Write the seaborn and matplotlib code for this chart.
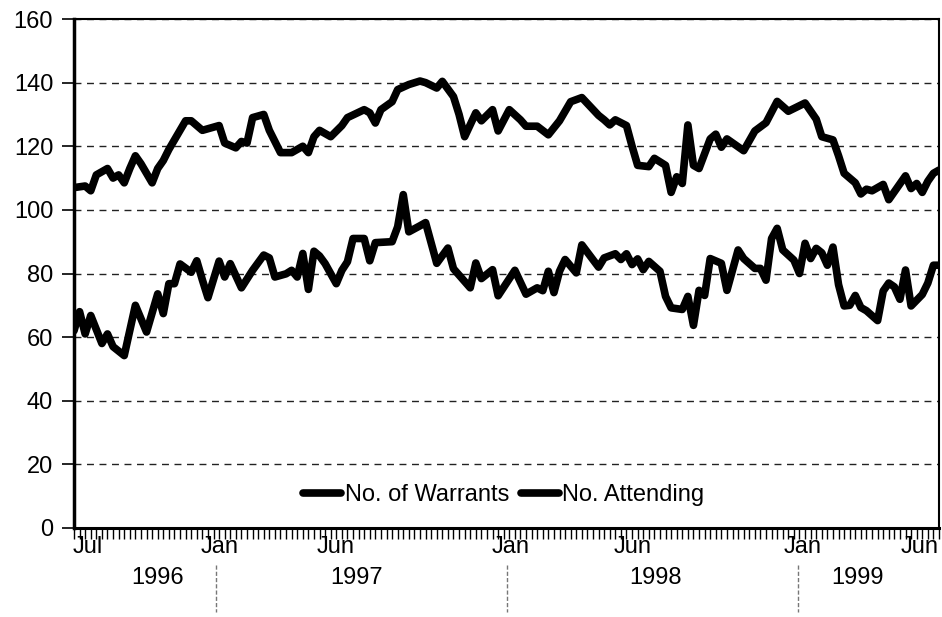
import matplotlib
matplotlib.use("Agg")
import matplotlib.pyplot as plt
import matplotlib.dates as mdates
from matplotlib.lines import Line2D
from matplotlib.transforms import blended_transform_factory
import numpy as np
import pandas as pd
import seaborn as sns

# ---------------- data ----------------
start_date = "1996-07-07"  # first week shown (weekly series)

warrant_weeks = [0, 2, 3, 4, 5, 6, 7, 8, 9, 10, 11, 12, 14, 15, 16, 17, 18, 20, 21, 22,
                 23, 26, 27, 29, 30, 31, 32, 34, 35, 37, 39, 41, 42, 43, 44, 46, 48, 49,
                 52, 53, 54, 55, 57, 58, 60, 62, 63, 65, 66, 68, 69, 70, 72, 73, 75, 76,
                 78, 80, 81, 83, 85, 87, 89, 91, 94, 95, 96, 97, 99, 100, 101, 103, 104,
                 106, 107, 108, 109, 110, 111, 112, 114, 115, 116, 117, 120, 121, 122,
                 124, 126, 128, 131, 133, 134, 136, 137, 138, 140, 141, 142, 143, 145,
                 146, 147, 149, 150, 151, 152, 153, 154, 155]
warrant_values = [107, 107.5, 106, 111, 112, 113, 110, 111, 108.5, 113, 117, 114.5, 108.5,
                  113, 115.5, 119, 122, 128, 128, 126.5, 125, 126.5, 121, 119.5, 121.5,
                  121, 129, 130, 125, 118, 118, 120, 118, 123, 125, 123, 126.5, 129,
                  131.5, 130.5, 127.3, 131.5, 134, 137.8, 139.4, 140.5, 140, 138.3, 140.4,
                  135.6, 130, 123, 130.5, 128, 131.5, 124.8, 131.5, 128.3, 126.3, 126.3,
                  123.6, 128, 134, 135.3, 129.7, 128.3, 126.7, 128.3, 126.5, 120, 114,
                  113.6, 116.2, 114, 105.5, 110.4, 108.3, 126.7, 114, 113, 122.3, 123.8,
                  119.7, 122.3, 118.6, 121.7, 124.8, 127.4, 134.1, 131, 133.6, 128.5, 123,
                  122, 117, 111.5, 108.5, 105, 106.5, 106, 108, 103.2, 105.7, 110.7, 106.7,
                  108.3, 105.5, 109, 111.5, 112.5]

attend_weeks = [0, 1, 2, 3, 5, 6, 7, 9, 11, 13, 15, 16, 17, 18, 19, 21, 22, 23, 24, 26,
                27, 28, 30, 32, 34, 35, 36, 38, 39, 40, 41, 42, 43, 44, 45, 47, 48, 49,
                50, 52, 53, 54, 57, 58, 59, 60, 62, 63, 65, 67, 68, 71, 72, 73, 75, 76,
                79, 81, 83, 84, 85, 86, 87, 88, 90, 91, 94, 95, 97, 98, 99, 100, 101,
                102, 103, 105, 106, 107, 109, 110, 111, 112, 113, 114, 116, 117, 119,
                120, 122, 123, 124, 125, 126, 127, 129, 130, 131, 132, 133, 134, 135,
                136, 137, 138, 139, 140, 141, 142, 144, 145, 146, 147, 148, 149, 150,
                152, 153, 154, 155]
attend_values = [62, 68, 61, 66.8, 58, 61, 57, 54.2, 70, 61.6, 73.6, 67.4, 76.8, 76.8, 83,
                 80.4, 84, 78, 72.4, 83.9, 78.9, 83.1, 75.5, 81, 85.8, 84.9, 78.9, 79.9,
                 81, 78.9, 86.3, 75, 87, 85.5, 83.1, 76.8, 81, 83.7, 91, 91, 84, 89.7,
                 90, 94.7, 104.8, 93.1, 95, 96, 83.2, 88, 81.5, 75.5, 83.3, 78.4, 81.2,
                 73, 81, 73.5, 75.5, 74.6, 80.7, 74, 80.7, 84.4, 80.2, 89, 82, 84.9,
                 86.2, 84.4, 86.2, 82.8, 84.6, 81.2, 83.8, 80.7, 72.8, 69.2, 68.7, 72.8,
                 63.7, 74.7, 73.1, 84.7, 83.2, 74.7, 87.4, 84.7, 81.6, 81.6, 77.9, 91,
                 94.2, 87.4, 84.2, 80, 89.5, 84.7, 87.9, 86.5, 82.6, 88.3, 76.5, 69.8,
                 70, 73.1, 69.3, 68.3, 65.2, 74.5, 77, 75.8, 71.9, 81.1, 69.8, 73.4, 77,
                 82.6, 82.6]

series_names = ["No. of Warrants", "No. Attending"]

month_tick_dates = ["1996-07-24", "1997-01-06", "1997-05-31", "1998-01-06",
                    "1998-06-08", "1999-01-07", "1999-06-03"]
month_tick_labels = ["Jul", "Jan", "Jun", "Jan", "Jun", "Jan", "Jun"]

year_labels = ["1996", "1997", "1998", "1999"]
year_label_dates = ["1996-10-20", "1997-06-27", "1998-07-06", "1999-03-17"]
year_boundaries = ["1997-01-01", "1998-01-01", "1999-01-01"]

y_ticks = [0, 20, 40, 60, 80, 100, 120, 140, 160]
end_date = "1999-06-27"

# ---------------- build frame ----------------
t0 = pd.Timestamp(start_date)
df = pd.concat([
    pd.DataFrame({"date": t0 + pd.to_timedelta(np.array(warrant_weeks) * 7, unit="D"),
                  "value": warrant_values, "series": series_names[0]}),
    pd.DataFrame({"date": t0 + pd.to_timedelta(np.array(attend_weeks) * 7, unit="D"),
                  "value": attend_values, "series": series_names[1]}),
], ignore_index=True)

# ---------------- style ----------------
sns.set_style("white")
plt.rcParams["font.family"] = ["Liberation Sans", "DejaVu Sans"]
plt.rcParams["text.color"] = "black"
plt.rcParams["xtick.color"] = "black"
plt.rcParams["ytick.color"] = "black"
plt.rcParams["xtick.labelcolor"] = "black"
plt.rcParams["ytick.labelcolor"] = "black"
FS = 17

fig = plt.figure(figsize=(9.42, 6.17), dpi=100)
ax = fig.add_axes([74 / 942, 1 - 528 / 617, 865 / 942, 509 / 617])

sns.lineplot(data=df, x="date", y="value", hue="series",
             palette=["black", "black"], linewidth=5.5, ax=ax, legend=False,
             solid_joinstyle="round", solid_capstyle="round")

ax.set_xlim(pd.Timestamp(start_date), pd.Timestamp(end_date))
ax.set_ylim(0, 160)
ax.set_xlabel("")
ax.set_ylabel("")

ax.set_yticks(y_ticks)
ax.set_yticklabels([str(v) for v in y_ticks], fontsize=FS, color="black")
ax.tick_params(axis="y", which="major", direction="out", length=9, width=1.2,
               color="black", pad=6, left=True)

ax.set_xticks(pd.to_datetime(month_tick_dates))
ax.set_xticklabels(month_tick_labels, fontsize=FS, color="black")
ax.tick_params(axis="x", which="major", length=0, pad=6, bottom=True)
ax.xaxis.set_minor_locator(mdates.WeekdayLocator(byweekday=mdates.SU))
ax.tick_params(axis="x", which="minor", direction="out", length=8, width=1,
               color="black", bottom=True)

ax.yaxis.grid(True, linestyle=(0, (5, 4)), color="#222222", linewidth=1.0)
ax.xaxis.grid(False)

for side in ["left", "bottom", "top", "right"]:
    ax.spines[side].set_visible(True)
    ax.spines[side].set_color("black")
ax.spines["left"].set_linewidth(2.5)
ax.spines["bottom"].set_linewidth(2.2)
ax.spines["top"].set_linewidth(1.5)
ax.spines["right"].set_linewidth(1.5)

trans = blended_transform_factory(ax.transData, ax.transAxes)
for lab, d in zip(year_labels, year_label_dates):
    ax.text(pd.Timestamp(d), -0.098, lab, transform=trans, ha="center", va="center",
            fontsize=FS, color="black", clip_on=False)
for d in year_boundaries:
    xd = mdates.date2num(pd.Timestamp(d))
    ax.add_line(Line2D([xd, xd], [-0.072, -0.165], transform=trans, color="#777777",
                       linewidth=1.0, linestyle=(0, (3, 1.5)), clip_on=False))

handles = [Line2D([], [], color="black", linewidth=5.5) for _ in series_names]
leg = ax.legend(handles, series_names, loc="center", bbox_to_anchor=(0.497, 0.065),
                ncol=2, frameon=False, fontsize=FS, handlelength=1.6, handletextpad=0.15,
                columnspacing=0.5)
for t in leg.get_texts():
    t.set_color("black")

fig.savefig("out.png", dpi=100)
